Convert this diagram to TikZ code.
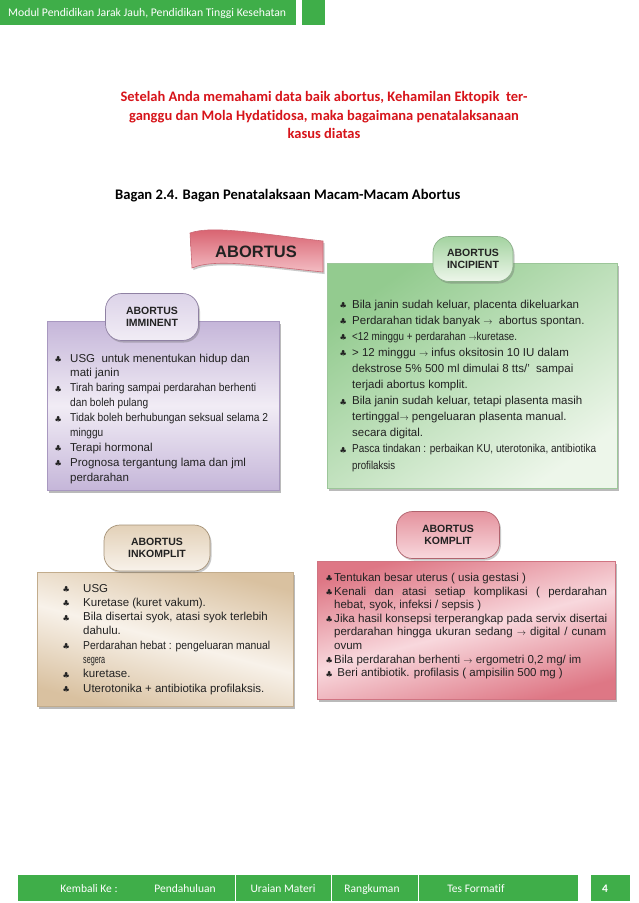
\documentclass[tikz,border=0pt]{standalone}
\usepackage{fontspec}
\usepackage{graphicx}
\setmainfont{Liberation Sans}
\newfontfamily\calib[Ligatures=NoCommon]{Carlito}
\usetikzlibrary{shadows}
\definecolor{hdrgreen}{HTML}{3FAE49}
\definecolor{titlered}{HTML}{D7141A}
\definecolor{txtc}{HTML}{222222}
\definecolor{bandark}{HTML}{D65A68}
\definecolor{banlight}{HTML}{F3BCC3}
\definecolor{banborder}{HTML}{C96A76}
\definecolor{grdark}{HTML}{93CB8F}
\definecolor{grlight}{HTML}{EDF6EA}
\definecolor{grborder}{HTML}{9CC699}
\definecolor{pudark}{HTML}{C5B6D9}
\definecolor{pulight}{HTML}{F1ECF5}
\definecolor{puborder}{HTML}{A898C0}
\definecolor{tadark}{HTML}{D9C1A0}
\definecolor{talight}{HTML}{F8F2EA}
\definecolor{taborder}{HTML}{C2AC8C}
\definecolor{pidark}{HTML}{DE7785}
\definecolor{pilight}{HTML}{F8D8DD}
\definecolor{piborder}{HTML}{D07482}
\newlength\bw
\newsavebox\condbox
\newcommand\club{\raisebox{0.6pt}{\fontsize{7}{7}\selectfont$\clubsuit$}}
\newcommand\arr{{\fontsize{9}{9}\selectfont$\rightarrow$}}
\newcommand\cond[2]{\sbox\condbox{#2}\pgfmathsetmacro\condsx{#1/(\wd\condbox/1pt)}\scalebox{\condsx}[1]{\usebox\condbox}}
\newcommand\itm[1]{\hbox{\hbox to\bw{\club\hss}#1}}
\newcommand\cnt[1]{\hbox{\hskip\bw #1}}
\newcommand\lines[2]{\vtop{\baselineskip=#1pt\lineskiplimit=-100pt\lineskip=0pt #2}}
\tikzset{
  boxs/.style={draw, line width=0.6pt, inner sep=0pt, anchor=north west,
     drop shadow={shadow xshift=2pt, shadow yshift=-2.5pt, opacity=0.45, fill=black!60}},
  tabs/.style={draw, line width=0.7pt, rounded corners=16pt, inner sep=0pt,
     minimum width=#1, align=center, text=txtc,
     font=\bfseries\fontsize{10.5}{12.3}\selectfont,
     drop shadow={shadow xshift=1.5pt, shadow yshift=-2pt, opacity=0.35, fill=black!60}},
  body/.style={anchor=base west, inner sep=0pt, text=txtc},
  foot/.style={text=white, font=\calib\fontsize{11.5}{13}\selectfont, inner sep=0pt, anchor=base},
}
\begin{document}
\begin{tikzpicture}[x=1pt,y=-1pt]
\useasboundingbox (0,0) rectangle (638,903);
\fill[white] (0,0) rectangle (638,903);
% header
\node[fill=hdrgreen, minimum width=296pt, minimum height=25pt, anchor=north west, inner sep=0pt] (hdr) at (0,0) {};
\node[fill=hdrgreen, minimum width=23pt, minimum height=25pt, anchor=north west, inner sep=0pt] (hdrsq) at (302,0) {};
\node[anchor=base west, text=white, inner sep=0pt, font=\calib\fontsize{11.7}{13}\selectfont] (hdrtxt) at (8,16.5) {Modul Pendidikan Jarak Jauh, Pendidikan Tinggi Kesehatan};
% title
\node[align=center, text=titlered, inner sep=0pt, font=\calib\bfseries\fontsize{14.5}{18.2}\selectfont] (title) at (324,115)
  {Setelah Anda memahami data baik abortus, Kehamilan Ektopik\ \ ter-\\ganggu dan Mola Hydatidosa, maka bagaimana penatalaksanaan\\kasus diatas};
\node[anchor=base west, inner sep=0pt, font=\calib\bfseries\fontsize{14.6}{16}\selectfont] (bagan) at (115,199) {Bagan 2.4. Bagan Penatalaksaan Macam-Macam Abortus};
% banner
\path[draw=banborder, line width=0.6pt, top color=bandark, bottom color=banlight,
  drop shadow={shadow xshift=1.5pt, shadow yshift=-2pt, opacity=0.35, fill=black!60}]
  (190,233) .. controls (212,225) and (262,234) .. (323,241) -- (323,272)
  .. controls (262,266) and (215,258) .. (192,268) -- cycle;
\node[inner sep=0pt, text=txtc, font=\bfseries\fontsize{16.5}{18}\selectfont] (abortus) at (256,252) {ABORTUS};
% green box (incipient)
\node[boxs, draw=grborder, top color=grdark, bottom color=grlight, shading angle=35,
  minimum width=290pt, minimum height=225pt] (grbox) at (327,263) {};
\node[tabs=80pt, minimum height=45pt, draw=grborder!90!black, top color=grdark!85, bottom color=grlight] (grtab) at (473,259) {ABORTUS\\INCIPIENT};
\node[body, font=\fontsize{11.5}{14}\selectfont] (grtxt) at (340,308) {\setlength\bw{12pt}\lines{16.1}{%
 \itm{Bila janin sudah keluar, placenta dikeluarkan}
 \itm{Perdarahan tidak banyak \arr\ \ abortus spontan.}
 \itm{\cond{165}{<12 minggu + perdarahan \arr kuretase.}}
 \itm{> 12 minggu \arr\ infus oksitosin 10 IU dalam}
 \cnt{dekstrose 5\% 500 ml dimulai 8 tts/'\ \ sampai}
 \cnt{terjadi abortus komplit.}
 \itm{Bila janin sudah keluar, tetapi plasenta masih}
 \cnt{tertinggal\arr\ pengeluaran plasenta manual.}
 \cnt{secara digital.}
 \itm{\cond{244}{Pasca tindakan : perbaikan KU, uterotonika, antibiotika}}
 \cnt{\cond{43}{profilaksis}}}};
% imminent
\node[boxs, draw=puborder, top color=pudark, bottom color=pudark, middle color=pulight,
  minimum width=232pt, minimum height=169pt] (imbox) at (47,321) {};
\node[tabs=93pt, minimum height=47pt, draw=puborder!85!black, top color=pudark!60, bottom color=pulight] (imtab) at (152,317) {ABORTUS\\IMMINENT};
\node[body, font=\fontsize{11.5}{14}\selectfont] (imtxt) at (55,362) {\setlength\bw{15pt}\lines{14.9}{%
 \itm{USG\ \ untuk menentukan hidup dan}
 \cnt{mati janin}
 \itm{\cond{186}{Tirah baring sampai perdarahan berhenti}}
 \cnt{\cond{78}{dan boleh pulang}}
 \itm{\cond{198}{Tidak boleh berhubungan seksual selama 2}}
 \cnt{\cond{33}{minggu}}
 \itm{Terapi hormonal}
 \itm{Prognosa tergantung lama dan jml}
 \cnt{perdarahan}}};
% inkomplit
\node[boxs, draw=taborder, top color=tadark, bottom color=tadark, middle color=talight, shading angle=-15,
  minimum width=256pt, minimum height=134pt] (inbox) at (37,572) {};
\node[tabs=106pt, minimum height=46pt, draw=taborder!85!black, top color=tadark!75, bottom color=talight] (intab) at (157,548) {ABORTUS\\INKOMPLIT};
\node[body, font=\fontsize{11.5}{14}\selectfont] (intxt) at (63,592) {\setlength\bw{20pt}\lines{14.3}{%
 \itm{USG}
 \itm{Kuretase (kuret vakum).}
 \itm{Bila disertai syok, atasi syok terlebih}
 \cnt{dahulu.}
 \itm{\cond{187}{Perdarahan hebat : pengeluaran manual}}
 \cnt{\cond{22}{segera}}
 \itm{kuretase.}
 \itm{Uterotonika + antibiotika profilaksis.}}};
% komplit
\node[boxs, draw=piborder, top color=pidark, bottom color=pidark, middle color=pilight, shading angle=15,
  minimum width=298pt, minimum height=138pt] (kobox) at (317,561) {};
\node[tabs=103pt, minimum height=47pt, draw=piborder!85!black, top color=pidark!80, bottom color=pilight] (kotab) at (448,535) {ABORTUS\\KOMPLIT};
\node[body, font=\fontsize{11.5}{13.6}\selectfont] (kotxt) at (326,581.5) {\setlength\bw{8pt}\lines{13.6}{%
 \itm{Tentukan besar uterus ( usia gestasi )}
 \itm{\makebox[273pt][s]{Kenali dan atasi setiap komplikasi ( perdarahan}}
 \cnt{hebat, syok, infeksi / sepsis )}
 \itm{\cond{273}{Jika hasil konsepsi terperangkap pada servix disertai}}
 \cnt{\makebox[272pt][s]{perdarahan hingga ukuran sedang \arr\ digital / cunam}}
 \cnt{ovum}
 \itm{Bila perdarahan berhenti \arr\ ergometri 0,2 mg/ im}
 \itm{\ Beri antibiotik. profilasis ( ampisilin 500 mg )}}};
% footer
\node[fill=hdrgreen, minimum width=560pt, minimum height=26pt, anchor=north west, inner sep=0pt] (ftbar) at (18,875) {};
\node[fill=hdrgreen, minimum width=39pt, minimum height=26pt, anchor=north west, inner sep=0pt] (ftnum) at (591,875) {};
\coordinate (s1a) at (235,875); \coordinate (s1b) at (235,901);
\coordinate (s2a) at (331,875); \coordinate (s2b) at (331,901);
\coordinate (s3a) at (418,875); \coordinate (s3b) at (418,901);
\draw[white, line width=0.8pt] (s1a) -- (s1b) (s2a) -- (s2b) (s3a) -- (s3b);
\node[foot] (f1) at (89,892) {Kembali Ke :};
\node[foot] (f2) at (185,892) {Pendahuluan};
\node[foot] (f3) at (283,892) {Uraian Materi};
\node[foot] (f4) at (372,892) {Rangkuman};
\node[foot] (f5) at (476,892) {Tes Formatif};
\node[foot, font=\calib\bfseries\fontsize{11.5}{13}\selectfont] (f6) at (605,892) {4};
\end{tikzpicture}
\end{document}
